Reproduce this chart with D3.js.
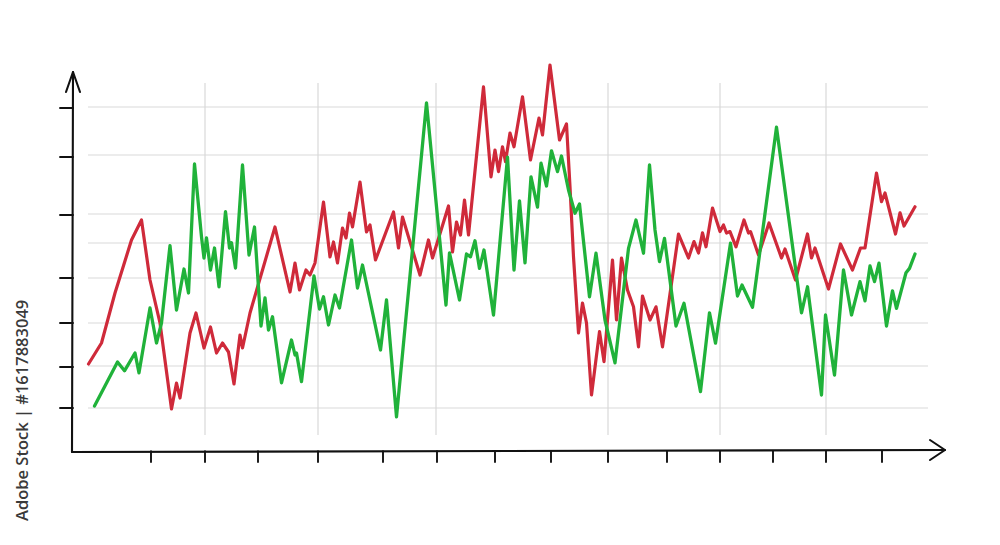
<!DOCTYPE html>
<html><head><meta charset="utf-8">
<script src="https://cdn.jsdelivr.net/npm/d3@7/dist/d3.min.js"></script>
<style>html,body{margin:0;padding:0;background:#fff;}svg{display:block;}</style>
</head><body>
<svg id="c" width="1000" height="545"></svg>
<script>
// Series values: [time, value]
const redX = [3.1,5.7,8.4,11.7,13.7,15.4,17.4,19.7,20.7,21.4,23.4,24.6,26.2,27.5,28.7,29.9,31.1,32.2,33.4,33.9,35.4,40.4,43.4,44.4,45.3,46.6,47.4,48.4,50.1,51.4,52.1,52.9,53.9,54.6,55.3,55.9,57.4,58.7,59.4,60.5,64.1,65.1,65.9,69.4,71.1,71.9,75.1,75.9,76.7,77.5,78.3,79.1,82.1,83.6,84.4,85.1,85.9,86.5,87.4,88.2,89.9,91.5,93.2,93.9,95.4,97.3,98.7,99.4,100.1,101.1,101.9,102.7,103.7,105.3,106.2,107.9,108.7,109.7,110.9,112.1,113.1,113.9,115.4,116.6,117.9,121.1,123.1,124.2,125.1,125.9,126.6,127.9,129.4,130.1,130.7,131.4,132.6,134.2,135.1,135.5,137.1,139.2,141.7,142.4,144.5,146.9,147.7,148.4,151.1,153.5,155.9,157.5,158.4,160.7,161.7,162.4,164.5,165.4,166.2,168.4];
const redY = [21.5,26.75,39.25,52.5,57.5,42.5,31.75,10.25,16.75,13,29.25,34.25,25.5,30.75,24.25,26.75,24.5,16.5,28.75,25.5,34.25,55.75,39.5,46.75,40,45,43.75,46.75,62,48.25,52,46.75,55.5,53,59.25,55.75,67,54.5,56.25,47.5,59.5,50.5,58.25,43.75,52.5,48,61,49.5,57,53.75,62.5,53.75,90.8,68.3,75,69.6,75.8,72.1,79.25,75.8,88.3,72.5,83,78.75,96.25,77.5,81.5,65.8,48.3,29.25,36.75,31.75,13.75,29.6,22.1,47.5,32.5,48,40,35.8,25.8,38.5,32.5,35.8,25.8,54,48,52.1,49.25,54.3,50.8,60.5,54.6,56.25,54.25,54.6,50.8,57.5,54.25,54.6,48.75,56.75,48,50.25,42.5,54,48,50.5,40.25,51.5,45,50.5,50.5,69.25,62.1,64.25,54,59.3,56,60.8];
const greenX = [4.3,8.9,10.3,12.4,13.2,15.4,16.7,17.7,19.4,20.7,22.2,23.1,24.3,25.7,26.2,26.7,27.5,28.3,29.2,30.5,31.3,31.7,32.5,33.9,35.2,36.3,37.6,38.4,39.1,39.9,41.7,43.7,44.4,44.7,45.7,48.2,49.3,50.1,51.1,52.4,53.3,55.7,56.9,57.9,61.5,62.7,64.7,70.7,74.6,75.3,77.3,78.7,79.5,80.4,81.3,82.2,84.1,86.9,88.2,89.3,90.4,91.6,92.9,93.6,94.7,95.7,96.9,97.7,99.1,100.4,101.3,103.3,104.6,106.4,108.4,111.1,112.6,114.1,115.3,116.4,117.3,118.3,120.6,122.2,125.5,127.3,128.5,131.5,132.9,133.8,135.9,140.7,145.7,146.9,149.7,150.5,152.3,154.1,155.7,157.4,158.4,159.4,160.3,161.2,162.7,163.9,164.7,166.6,167.3,168.4];
const greenY = [11,22,19.8,24.25,19.3,35.5,26.75,31.75,51.1,35,45.25,39.25,71.5,53.3,48,53,45,50.5,40.8,59.6,50.5,51.8,45.5,71.25,48.75,55.75,31,38,30,33.3,16.8,27.5,23.75,24.25,17.1,43.5,35.25,38.3,31.25,38.75,35.5,52.5,40.5,46.25,25,37.5,8.3,86.8,36.25,49.3,37.5,49,48.3,52.3,45.4,50,33.75,73.2,45,62.3,46.8,68.3,60.7,71.7,66,74.8,69.6,73.5,65,59.2,61.5,38.3,49.2,32.5,21.8,50.4,57.5,49.2,71.25,55,47.1,52.9,31,36.7,14.6,34.3,26.7,51.7,38.5,41.25,35.7,80.7,34.3,40.8,13.75,33.75,18.75,45,33.75,42.1,37.3,46,42.1,46.7,31,39.8,35.4,44.3,45.4,49];
// Tick / grid positions (data units)
const xTicks = [15.6,26.4,37,49,62,72.8,84.4,95.6,107,118.8,129.4,140,150.6,161.8];
const yTicks = [10.5,20.75,31.75,43,58.75,73.25,85.5];
const xGrid = [26.4,49,72.6,107,129.4,150.6];
const yGrid = [10.5,21,31.75,43,51.75,59,73.75,85.75];
const watermark = "Adobe Stock | #1617883049";

const svg = d3.select("#c");
const x = d3.scaleLinear().domain([0,174]).range([73,943]);
const y = d3.scaleLinear().domain([0,100]).range([450,50]);

// grid
const g = svg.append("g");
g.selectAll(".hg").data(yGrid).enter().append("line")
  .attr("x1", x(3)).attr("x2", x(171))
  .attr("y1", d=>y(d)).attr("y2", d=>y(d))
  .attr("stroke", "#d9d9d9").attr("stroke-width", 1.2);
g.selectAll(".vg").data(xGrid).enter().append("line")
  .attr("x1", d=>x(d)).attr("x2", d=>x(d))
  .attr("y1", y(91.75)).attr("y2", y(3.75))
  .attr("stroke", "#d9d9d9").attr("stroke-width", 1.2);

// axes (hand-drawn)
const ax = svg.append("g").attr("stroke","#111").attr("stroke-width",2.1).attr("fill","none")
  .attr("stroke-linecap","round").attr("stroke-linejoin","round");
ax.append("path").attr("d", d3.line()([[x(0), y(94.5)], [x(-0.2), y(-0.5)]]));
ax.append("path").attr("d", d3.line()([[x(-1.4), y(89.5)], [x(0), y(94.5)], [x(1.4), y(89.5)]]));
ax.append("path").attr("d", d3.line()([[x(-0.2), y(-0.5)], [x(174.4), y(0)]]));
ax.append("path").attr("d", d3.line()([[x(171.4), y(2.5)], [x(174.4), y(0)], [x(171.4), y(-2.5)]]));
ax.selectAll(".yt").data(yTicks).enter().append("line")
  .attr("x1", x(-2.6)).attr("x2", x(0)).attr("y1", d=>y(d)).attr("y2", d=>y(d))
  .attr("stroke-width", 1.9);
ax.selectAll(".xt").data(xTicks).enter().append("line")
  .attr("x1", d=>x(d)).attr("x2", d=>x(d)).attr("y1", y(-0.3)).attr("y2", y(-3))
  .attr("stroke-width", 1.9);

// series
const line = d3.line().x(d=>x(d[0])).y(d=>y(d[1]));
svg.append("path").datum(redX.map((v,i)=>[v, redY[i]]))
  .attr("d", line).attr("fill","none").attr("stroke","#cf2a3a").attr("stroke-width",3.2)
  .attr("stroke-linejoin","round").attr("stroke-linecap","round");
svg.append("path").datum(greenX.map((v,i)=>[v, greenY[i]]))
  .attr("d", line).attr("fill","none").attr("stroke","#20b23a").attr("stroke-width",3.3)
  .attr("stroke-linejoin","round").attr("stroke-linecap","round");

// watermark text
svg.append("text").attr("transform","translate(28,521) rotate(-90)")
  .attr("font-family","'Open Sans', sans-serif").attr("font-size",16.5).attr("font-weight",600)
  .attr("fill","#3a3a3a").text(watermark);
</script>
</body></html>
